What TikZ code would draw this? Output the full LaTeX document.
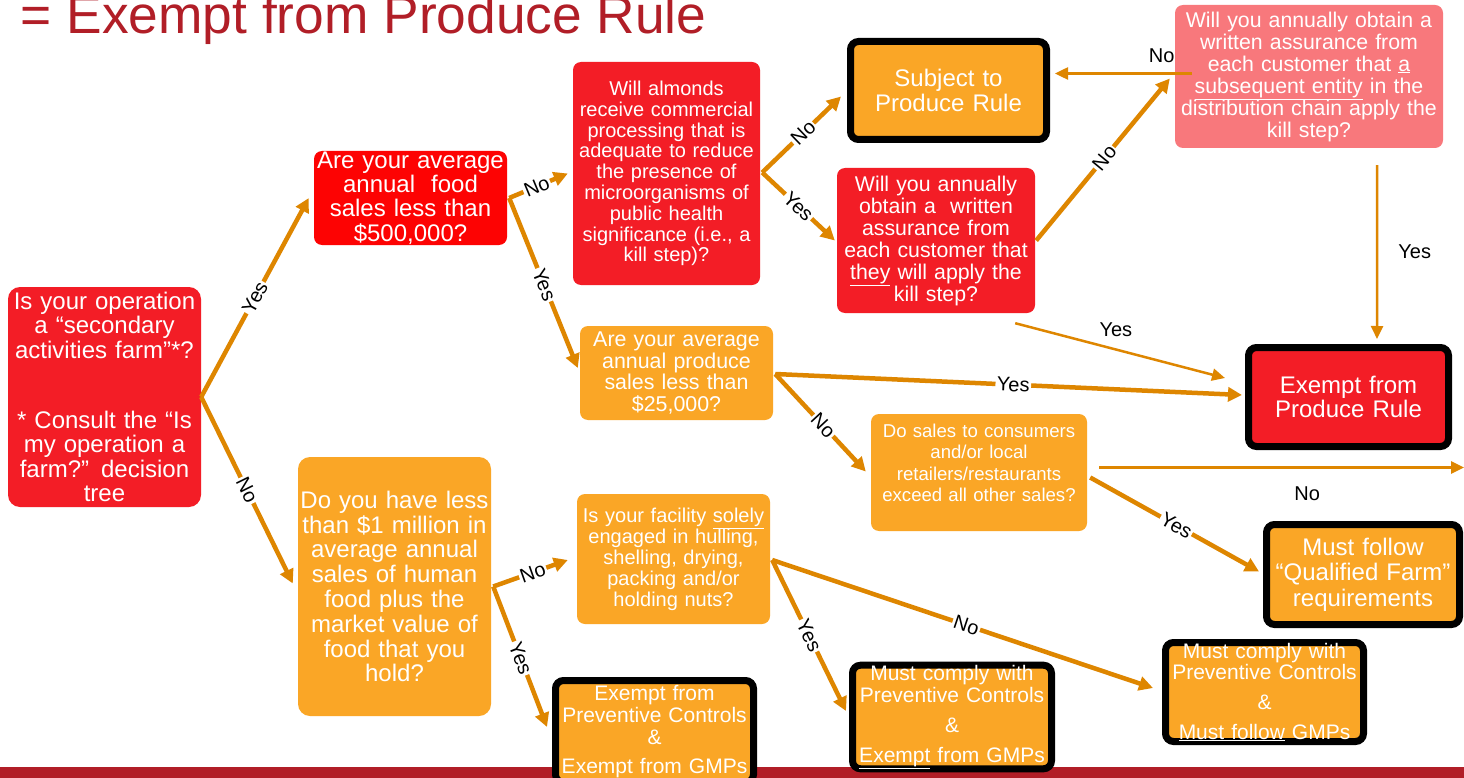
\documentclass[tikz,border=0pt]{standalone}
\usepackage{fontspec}
\setmainfont{Liberation Sans}
\usetikzlibrary{arrows.meta,calc}
\definecolor{boxorange}{RGB}{250,166,38}
\definecolor{boxred}{RGB}{243,29,38}
\definecolor{purered}{RGB}{253,3,3}
\definecolor{boxpink}{RGB}{248,120,124}
\definecolor{arrowc}{RGB}{222,134,0}
\definecolor{titlered}{RGB}{177,30,39}
\newcommand\setfs[2]{\fontsize{#1}{#2}\selectfont}
\begin{document}
\begin{tikzpicture}[x=1pt,y=-1pt,
  qbox/.style={rounded corners=8pt, inner sep=0pt, align=center, text=white},
  qred/.style={qbox, fill=boxred},
  qorange/.style={qbox, fill=boxorange},
  endbox/.style={qbox, draw=black, line width=7pt},
  conn/.style={draw=arrowc, line width=4.5pt, -{Triangle[length=14pt,width=14pt]}},
  thinconn/.style={draw=arrowc, line width=2.5pt, -{Triangle[length=13pt,width=12pt]}},
  lbl/.style={font=\setfs{20}{22}, text=black, fill=white, inner sep=1.5pt, sloped},
  plainlbl/.style={font=\setfs{20}{22}, text=black, inner sep=0pt}
]
\useasboundingbox (0,0) rectangle (1464,778);
\fill[white] (0,0) rectangle (1464,778);
\fill[titlered] (0,767) rectangle (1464,785);
\node[anchor=base west, text=titlered, font=\setfs{53.3}{55}, inner sep=0pt] (title) at (20.5,34) {= Exempt from Produce Rule};

% question boxes
\node[qred, rounded corners=12pt, minimum width=193, minimum height=220, text width=190, font=\setfs{24}{24.3}] (farm) at (104.5,397)
  {Is your operation\\a “secondary\\activities farm”*?\\[46pt]* Consult the “Is\\my operation a\\farm?” decision\\tree};
\node[qbox, fill=purered, minimum width=193, minimum height=94, text width=190, font=\setfs{24}{24.4}] (food500) at (410.5,198)
  {Are your average\\annual\ \ food\\sales less than\\\$500,000?};
\node[qred, minimum width=187, minimum height=223, text width=185, font=\setfs{20}{20.8}] (almonds) at (666.5,173.5)
  {Will almonds\\receive commercial\\processing that is\\adequate to reduce\\the presence of\\microorganisms of\\public health\\significance (i.e., a\\kill step)?};
\node[qred, minimum width=198, minimum height=145, text width=196, font=\setfs{21.3}{22}] (killstep) at (936,240.5)
  {Will you annually\\obtain a\ \ written\\assurance from\\each customer that\\\underline{they} will apply the\\kill step?};
\node[qbox, fill=boxpink, minimum width=268, minimum height=143, text width=264, font=\setfs{21.3}{22}] (pink) at (1309,76.5)
  {Will you annually obtain a\\written assurance from\\each customer that \underline{a}\\\underline{subsequent entity} in the\\distribution chain apply the\\kill step?};
\node[qorange, minimum width=193, minimum height=94, text width=190, font=\setfs{21.4}{21.7}] (prod25) at (676.5,373)
  {Are your average\\annual produce\\sales less than\\\$25,000?};
\node[qorange, minimum width=216, minimum height=117, text width=212, font=\setfs{18.6}{21.4}] (dosales) at (979,472.5)
  {Do sales to consumers\\and/or local\\retailers/restaurants\\exceed all other sales?\\[-2pt]\mbox{}};
\node[qorange, rounded corners=12pt, minimum width=193, minimum height=259, text width=190, font=\setfs{24}{24.8}] (million) at (394.5,586.5)
  {Do you have less\\than \$1 million in\\average annual\\sales of human\\food plus the\\market value of\\food that you\\hold?};
\node[qorange, minimum width=193, minimum height=130, text width=190, font=\setfs{20}{21}] (hulling) at (673.5,559)
  {Is your facility \underline{solely}\\engaged in hulling,\\shelling, drying,\\packing and/or\\holding nuts?};

% outcome boxes
\node[endbox, fill=boxorange, minimum width=196, minimum height=98, text width=190, font=\setfs{24}{25}] (subject) at (948.5,90.5)
  {Subject to\\Produce Rule};
\node[endbox, fill=boxred, minimum width=200, minimum height=99, text width=192, font=\setfs{24}{24.5}] (exemptPR) at (1348.5,397)
  {Exempt from\\Produce Rule};
\node[endbox, fill=boxorange, minimum width=193, minimum height=100, text width=190, font=\setfs{24}{25.5}] (qualified) at (1363,574.5)
  {Must follow\\“Qualified Farm”\\requirements};
\node[endbox, fill=boxorange, minimum width=198, minimum height=102, text width=192, font=\setfs{21}{22}] (exemptPC) at (654.5,731.5)
  {Exempt from\\Preventive Controls\\\&\\[7pt]Exempt from GMPs};
\node[endbox, fill=boxorange, minimum width=199, minimum height=101, text width=192, font=\setfs{21}{22}] (mc1) at (952,717)
  {Must comply with\\Preventive Controls\\[8pt]\&\\[8pt]\underline{Exempt} from GMPs};
\node[endbox, fill=boxorange, minimum width=198, minimum height=99, text width=192, font=\setfs{21}{21}] (mc2) at (1264.5,692)
  {Must comply with\\Preventive Controls\\[9pt]\&\\[9pt]\underline{Must follow} GMPs};

\coordinate (rightedge) at (1464,467.5);

% connectors
\draw[conn] (farm.east) -- node[lbl, pos=.5] {Yes} ($(food500.west)+(-5,0)$);
\draw[conn] (farm.east) -- node[lbl, pos=.5] {No} ($(million.west)+(-5,-3)$);
\draw[conn] ($(food500.east)+(2,0)$) -- node[lbl, pos=.47] {No} ($(almonds.west)+(-5,0)$);
\draw[conn] ($(food500.east)+(2,0)$) -- node[lbl, pos=.51] {Yes} ($(prod25.west)+(-2,-5)$);
\draw[conn] ($(almonds.east)+(2,-1)$) -- node[lbl, pos=.52] {No} ($(subject.west)+(-6,6)$);
\draw[conn] ($(almonds.east)+(2,-1)$) -- node[lbl, pos=.5] {Yes} ($(killstep.west)+(-2,0)$);
\draw[conn] ($(killstep.east)+(1,0)$) -- node[lbl, pos=.51] {No} ($(pink.west)+(-5,2)$);
\draw[thinconn] ($(pink.west)+(17,-3)$) -- node[plainlbl, pos=.22, above=10pt] {No} ($(subject.east)+(5,-17)$);
\draw[thinconn] ($(pink.south east)+(-66,17)$) -- node[plainlbl, pos=.5, right=20pt] {Yes} ($(exemptPR.north)+(28.5,-5)$);
\draw[thinconn] ($(killstep.south east)+(-20,10)$) -- node[plainlbl, pos=.48, above=12pt] {Yes} ($(exemptPR.west)+(-20,-19)$);
\draw[conn] ($(prod25.east)+(2,1)$) -- node[lbl, pos=.51] {Yes} ($(exemptPR.west)+(-3,-2)$);
\draw[conn] ($(prod25.east)+(2,1)$) -- node[lbl, pos=.53] {No} ($(dosales.west)+(-5,-1)$);
\draw[thinconn] ($(dosales.east)+(12,-5)$) -- node[plainlbl, pos=.57, below=18pt] {No} (rightedge);
\draw[conn] ($(dosales.east)+(3,5)$) -- node[lbl, pos=.51] {Yes} ($(qualified.west)+(-4,-3)$);
\draw[conn] ($(million.east)+(2,0)$) -- node[lbl, pos=.53] {No} ($(hulling.west)+(-9,1)$);
\draw[conn] ($(million.east)+(2,0)$) -- node[lbl, pos=.51] {Yes} ($(exemptPC.west)+(-5,-4.5)$);
\draw[conn] ($(hulling.east)+(2,1)$) -- node[lbl, pos=.5] {Yes} ($(mc1.west)+(-3,-6)$);
\draw[conn] ($(hulling.east)+(2,1)$) -- node[lbl, pos=.51] {No} ($(mc2.west)+(-9,-4)$);
\end{tikzpicture}
\end{document}
